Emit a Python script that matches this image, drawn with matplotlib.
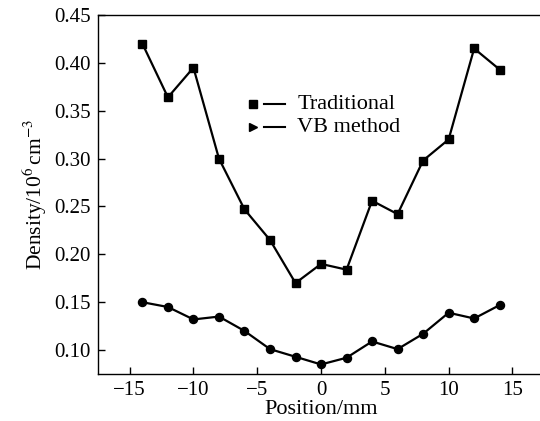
import matplotlib
matplotlib.use("Agg")
import matplotlib.pyplot as plt

plt.rcParams['font.family'] = ['Liberation Serif', 'DejaVu Serif']
plt.rcParams['mathtext.fontset'] = 'stix'

positions = [-14, -12, -10, -8, -6, -4, -2, 0, 2, 4, 6, 8, 10, 12, 14]
traditional = [0.420, 0.364, 0.395, 0.300, 0.247, 0.215, 0.170, 0.190, 0.184,
               0.256, 0.242, 0.298, 0.320, 0.415, 0.393]
vb_method = [0.150, 0.145, 0.132, 0.135, 0.120, 0.101, 0.093, 0.085, 0.092,
             0.109, 0.101, 0.117, 0.139, 0.133, 0.147]
xticks = [-15, -10, -5, 0, 5, 10, 15]
yticks = [0.10, 0.15, 0.20, 0.25, 0.30, 0.35, 0.40, 0.45]
series_names = ["Traditional", "VB method"]

fig = plt.figure(figsize=(5.4, 4.21), dpi=100)
ax = fig.add_axes([0.181, 0.1116, 1.008 - 0.181, 0.9644 - 0.1116])

ax.plot(positions, traditional, color='black', lw=1.6, marker='s', ms=5.8)
ax.plot(positions, vb_method, color='black', lw=1.6, marker='o', ms=5.8)

ax.set_xlim(-17.5, 17.5)
ax.set_ylim(0.075, 0.45)
ax.set_xticks(xticks)
ax.set_xticklabels([f"\u2212{abs(t)}" if t < 0 else str(t) for t in xticks])
ax.set_yticks(yticks)
ax.set_yticklabels([f"{t:.2f}" for t in yticks])
ax.tick_params(direction='in', length=5, width=1, labelsize=15, pad=5,
               top=False, right=False)
for s in ax.spines.values():
    s.set_linewidth(1.0)

ax.set_xlabel("Position/mm", fontsize=16, labelpad=0)
ax.set_ylabel(r"Density/10$^{6}\,$cm$^{-3}$", fontsize=15.5, labelpad=4)

# manual legend
markers = ['s', '>']
ys = [0.752, 0.687]
for name, m, yy in zip(series_names, markers, ys):
    ax.plot([0.348], [yy], marker=m, color='black', ms=5.5,
            transform=ax.transAxes, clip_on=False)
    ax.plot([0.372, 0.420], [yy, yy], color='black', lw=1.5,
            transform=ax.transAxes)
    ax.text(0.447, yy, name, transform=ax.transAxes, fontsize=16,
            va='center', ha='left')

fig.savefig("out.png", dpi=100)
